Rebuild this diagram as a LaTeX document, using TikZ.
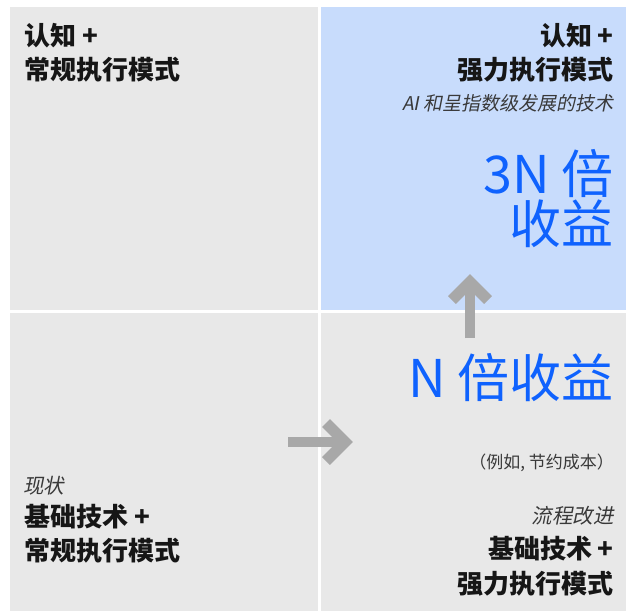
\documentclass[tikz,border=0pt]{standalone}
\usepackage{fontspec}
\setmainfont{Noto Sans CJK SC}
\newfontfamily\cjk{Noto Sans CJK SC}
\newfontfamily\cjkit[FakeSlant=0.2]{Noto Sans CJK SC}
\definecolor{qgray}{HTML}{E8E8E8}
\definecolor{qblue}{HTML}{C8DCFC}
\definecolor{txtblue}{HTML}{0F62FE}
\definecolor{dark}{HTML}{161616}
\definecolor{midtxt}{HTML}{393939}
\definecolor{arrgray}{HTML}{A8A8A8}
\tikzset{
  boldlbl/.style={font=\cjk\bfseries\fontsize{26}{30}\selectfont, text=dark, inner sep=0pt},
  itlbl/.style={font=\cjkit\fontsize{19}{22}\selectfont, text=midtxt, inner sep=0pt},
  itbig/.style={font=\cjkit\fontsize{20.5}{24}\selectfont, text=midtxt, inner sep=0pt},
  biglbl/.style={font=\cjk\fontsize{52}{54}\selectfont, text=txtblue, inner sep=0pt},
  smalllbl/.style={font=\cjk\fontsize{17}{20}\selectfont, text=midtxt, inner sep=0pt},
  shaft/.style={draw=arrgray, line width=10pt, line cap=butt},
  chev/.style={draw=arrgray, line width=11pt, line cap=butt, line join=miter}
}
\begin{document}
\begin{tikzpicture}[x=1pt,y=-1pt]
\useasboundingbox (0,0) rectangle (626,611);
\fill[white] (0,0) rectangle (626,611);
% quadrants
\fill[qgray] (10,7) rectangle (318.3,310.3);
\fill[qblue] (321,7) rectangle (626,310.3);
\fill[qgray] (10,312.7) rectangle (318.3,611);
\fill[qgray] (321,312.7) rectangle (626,611);
% top-left
\node[boldlbl, anchor=base west] (tla) at (24,45) {认知 +};
\node[boldlbl, anchor=base west] (tlb) at (24,79) {常规执行模式};
% top-right
\node[boldlbl, anchor=base east] (tra) at (614,45) {认知 +};
\node[boldlbl, anchor=base east] (trb) at (614,79) {强力执行模式};
\node[itlbl, anchor=base east] (trc) at (614,110) {AI 和呈指数级发展的技术};
\node[biglbl, anchor=base east] (trd) at (614,193) {3N 倍};
\node[biglbl, anchor=base east] (tre) at (614,243) {收益};
% bottom-right
\node[biglbl, anchor=base east] (bra) at (614,397) {N 倍收益};
\node[smalllbl, anchor=base east] (brb) at (614,468) {（例如, 节约成本）};
\node[itbig, anchor=base east] (brc) at (614,523) {流程改进};
\node[boldlbl, anchor=base east] (brd) at (614,558) {基础技术 +};
\node[boldlbl, anchor=base east] (bre) at (614,593) {强力执行模式};
% bottom-left
\node[itbig, anchor=base west] (bla) at (23,493) {现状};
\node[boldlbl, anchor=base west] (blb) at (24,526) {基础技术 +};
\node[boldlbl, anchor=base west] (blc) at (24,560) {常规执行模式};
% right arrow
\coordinate (rs) at (288,442);
\coordinate (rt) at (345,442);
\coordinate (rw1) at (326,423);
\coordinate (rw2) at (326,461);
\draw[shaft] (rs) -- (rt);
\draw[chev] (rw1) -- (rt) -- (rw2);
% up arrow
\coordinate (us) at (470,338);
\coordinate (ut) at (470,282);
\coordinate (uw1) at (452,300);
\coordinate (uw2) at (488,300);
\draw[shaft] (us) -- (ut);
\draw[chev] (uw1) -- (ut) -- (uw2);
\end{tikzpicture}
\end{document}
